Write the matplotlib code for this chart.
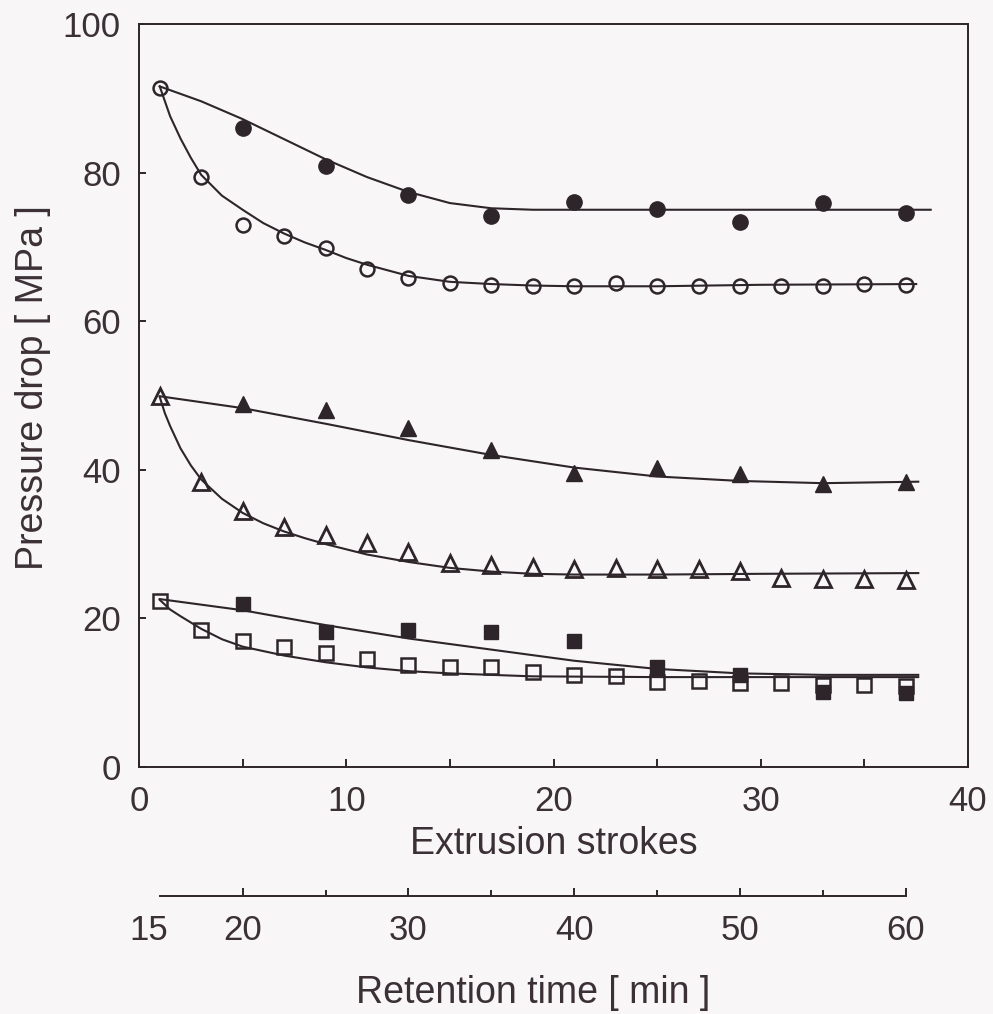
import matplotlib.pyplot as plt
import matplotlib.transforms as mtransforms

# colours
ink = "#2e252b"
text_col = "#3a3036"
bg = "#f8f6f7"

# measured points (extrusion strokes / pressure drop MPa)
strokes_odd = [1, 3, 5, 7, 9, 11, 13, 15, 17, 19, 21, 23, 25, 27, 29, 31, 33, 35, 37]
strokes_fill = [5, 9, 13, 17, 21, 25, 29, 33, 37]

circle_open = [91.4, 79.4, 72.9, 71.5, 69.8, 67.0, 65.8, 65.2, 64.9, 64.7, 64.7,
               65.1, 64.7, 64.7, 64.7, 64.8, 64.7, 65.0, 64.9]
circle_fill = [86.0, 80.9, 77.0, 74.2, 76.1, 75.1, 73.3, 75.9, 74.6]

tri_open = [50.0, 38.4, 34.4, 32.3, 31.2, 30.1, 29.0, 27.5, 27.2, 26.9, 26.7,
            26.8, 26.7, 26.7, 26.4, 25.4, 25.3, 25.3, 25.2]
tri_fill = [48.9, 48.0, 45.6, 42.7, 39.6, 40.2, 39.5, 38.1, 38.4]

sq_open = [22.4, 18.4, 16.9, 16.1, 15.3, 14.6, 13.7, 13.5, 13.4, 12.8, 12.4,
           12.2, 11.5, 11.6, 11.3, 11.3, 11.0, 11.0, 10.9]
sq_fill = [21.9, 18.2, 18.4, 18.2, 16.9, 13.5, 12.4, 10.1, 9.9]

# fitted curves
fit_circle_open_x = [1, 1.5, 2, 2.5, 3, 4, 5, 6, 7, 8, 9, 10, 11, 13, 15, 17, 19, 21, 25, 30, 37.5]
fit_circle_open_y = [91.6, 87.6, 84.6, 82.0, 79.7, 76.9, 75.0, 73.2, 71.8, 70.6, 69.6, 68.5,
                     67.6, 66.1, 65.3, 65.0, 64.8, 64.7, 64.7, 64.9, 65.0]
fit_circle_fill_x = [1, 3, 5, 7, 9, 11, 13, 15, 17, 19, 21, 30, 38.2]
fit_circle_fill_y = [91.6, 89.6, 87.2, 84.5, 81.8, 79.4, 77.4, 75.9, 75.2, 75.0, 75.0, 75.0, 75.0]

fit_tri_open_x = [1, 1.25, 1.5, 2, 2.5, 3, 4, 5, 6, 7, 8, 9, 11, 13, 15, 17, 19, 21, 25, 30, 37.6]
fit_tri_open_y = [49.8, 47.6, 45.9, 42.9, 40.6, 38.7, 36.1, 34.2, 32.8, 31.7, 30.8, 30.0, 28.6,
                  27.6, 26.8, 26.3, 26.0, 25.9, 25.9, 26.0, 26.1]
fit_tri_fill_x = [1, 5, 9, 13, 17, 21, 25, 29, 33, 37.6]
fit_tri_fill_y = [49.9, 48.3, 46.2, 44.0, 42.0, 40.3, 39.1, 38.5, 38.2, 38.4]

fit_sq_open_x = [1, 1.5, 2, 3, 4, 5, 7, 9, 11, 13, 15, 17, 19, 25, 30, 37.6]
fit_sq_open_y = [22.5, 21.2, 20.3, 18.6, 17.2, 16.2, 15.0, 14.1, 13.4, 12.9, 12.6, 12.4,
                 12.2, 12.1, 12.1, 12.1]
fit_sq_fill_x = [1, 5, 9, 13, 17, 21, 25, 29, 33, 37.6]
fit_sq_fill_y = [22.6, 21.1, 19.1, 17.3, 15.8, 14.3, 13.2, 12.6, 12.4, 12.4]

# retention time scale: 15 min at stroke 1, 60 min at stroke 37
ret_labels = [15, 20, 30, 40, 50, 60]
ret_minor = [25, 35, 45, 55]
ret_span_strokes = [1, 37]
ret_span_min = [15, 60]

plt.rcParams['font.family'] = ['Liberation Sans', 'DejaVu Sans']

fig = plt.figure(figsize=(9.93, 10.14), dpi=100, facecolor=bg)
ax = fig.add_axes([139/993, 1-767/1014, (968-139)/993, (767-24)/1014])
ax.set_facecolor(bg)

lw = 1.5
ax.plot(fit_circle_fill_x, fit_circle_fill_y, color=ink, lw=lw)
ax.plot(fit_circle_open_x, fit_circle_open_y, color=ink, lw=lw)
ax.plot(fit_tri_fill_x, fit_tri_fill_y, color=ink, lw=lw)
ax.plot(fit_tri_open_x, fit_tri_open_y, color=ink, lw=lw)
ax.plot(fit_sq_fill_x, fit_sq_fill_y, color=ink, lw=lw)
ax.plot(fit_sq_open_x, fit_sq_open_y, color=ink, lw=lw)

# filled markers
ax.plot(strokes_fill, circle_fill, 'o', ms=11, color=ink, mec=ink)
ax.plot(strokes_fill, tri_fill, '^', ms=12, color=ink, mec=ink)
ax.plot(strokes_fill, sq_fill, 's', ms=10.5, color=ink, mec=ink)
# open markers
ax.plot(strokes_odd, circle_open, 'o', ms=10, mfc='none', mec=ink, mew=1.8)
ax.plot(strokes_odd, tri_open, '^', ms=11, mfc='none', mec=ink, mew=2.0)
ax.plot(strokes_odd, sq_open, 's', ms=10, mfc='none', mec=ink, mew=1.8)

ax.set_xlim(0, 40)
ax.set_ylim(0, 100)
ax.set_xticks([0, 10, 20, 30, 40])
ax.set_xticks([5, 15, 25, 35], minor=True)
ax.set_yticks([0, 20, 40, 60, 80, 100])
for s in ax.spines.values():
    s.set_linewidth(1.4)
    s.set_color(ink)
ax.tick_params(axis='both', which='both', direction='in', color=ink, width=1.4,
               labelcolor=text_col)
ax.tick_params(axis='x', which='major', length=6, pad=13, labelsize=25)
ax.tick_params(axis='x', which='minor', length=6)
ax.tick_params(axis='y', which='major', length=5, pad=13, labelsize=25)
ax.set_xlabel("Extrusion strokes", fontsize=27, color=text_col, labelpad=6)
ax.set_ylabel("Pressure drop [ MPa ]", fontsize=27, color=text_col)
ax.yaxis.set_label_coords(-0.106, 0.51)

# secondary retention time axis, positioned under strokes 1..37
fig.canvas.draw()
to_fig = fig.transFigure.inverted()
x0 = to_fig.transform(ax.transData.transform((ret_span_strokes[0], 0)))[0]
x1 = to_fig.transform(ax.transData.transform((ret_span_strokes[1], 0)))[0]
ax2 = fig.add_axes([x0, 1-896/1014, x1-x0, 0.001])
ax2.patch.set_visible(False)
for k in ['top', 'left', 'right']:
    ax2.spines[k].set_visible(False)
ax2.spines['bottom'].set_linewidth(1.4)
ax2.spines['bottom'].set_color(ink)
ax2.set_xlim(ret_span_min[0], ret_span_min[1])
ax2.set_yticks([])
ax2.set_xticks(ret_labels)
ax2.set_xticks(ret_minor, minor=True)
ax2.tick_params(axis='x', which='both', direction='in', color=ink, width=1.4,
                labelcolor=text_col)
ax2.tick_params(axis='x', which='major', length=6, pad=13, labelsize=25)
ax2.tick_params(axis='x', which='minor', length=4)
ax2.xaxis.get_major_ticks()[0].tick1line.set_visible(False)
# first label sits a little left of the axis start
lab0 = ax2.xaxis.get_major_ticks()[0].label1
lab0.set_transform(lab0.get_transform() +
                   mtransforms.ScaledTranslation(-8/72, 0, fig.dpi_scale_trans))
ax2.set_xlabel("Retention time [ min ]", fontsize=27, color=text_col, labelpad=20)

fig.savefig("out.png", dpi=100, facecolor=bg)
